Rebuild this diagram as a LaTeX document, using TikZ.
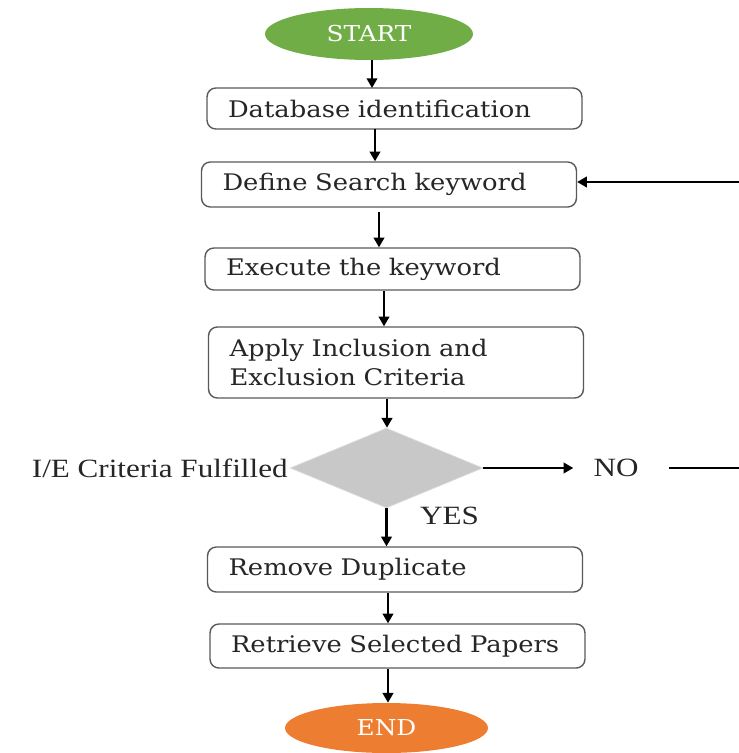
\documentclass[tikz,border=0pt]{standalone}
\usepackage{fontspec}
\setmainfont{DejaVu Serif}[FakeStretch=1.13]
\newfontfamily\labelfont{Liberation Serif}[FakeStretch=1.18]
\usetikzlibrary{shapes.geometric,arrows.meta}

\definecolor{startgreen}{HTML}{70AD47}
\definecolor{endorange}{HTML}{ED7D31}
\definecolor{decgray}{HTML}{C8C8C8}

\tikzset{
  procbox/.style={draw=black!65, line width=0.8pt, rounded corners=5pt,
    text width=6.66cm, inner xsep=0.42cm, align=left, text=black!85,
    font=\fontsize{13}{16}\selectfont},
  termnode/.style={ellipse, text=white, font=\fontsize{12.5}{15}\selectfont},
  declabel/.style={font=\labelfont\fontsize{15}{17}\selectfont, text=black!85},
  arr/.style={-{Triangle[length=5.5pt,width=6pt]}, line width=1.2pt},
}

\begin{document}
\begin{tikzpicture}[x=0.02cm, y=-0.02cm]
  \useasboundingbox (0,0) rectangle (739,753);

  \node[termnode, fill=startgreen, minimum width=4.16cm, minimum height=1.04cm] (start) at (369,34) {START};
  \node[procbox, minimum height=0.82cm] (db) at (394.5,108.5) {Database identification};
  \node[procbox, minimum height=0.9cm] (def) at (389,184.5) {Define Search keyword};
  \node[procbox, minimum height=0.84cm] (exe) at (392.5,269) {Execute the keyword};
  \node[procbox, minimum height=1.42cm] (app) at (396,362.5) {Apply Inclusion and\\Exclusion Criteria};
  \node[diamond, fill=decgray, draw=black!12, minimum width=3.86cm, minimum height=1.6cm, inner sep=0pt] (dec) at (386.5,468) {};
  \node[procbox, minimum height=0.9cm] (rem) at (395,569.5) {Remove Duplicate};
  \node[procbox, minimum height=0.88cm] (ret) at (397.5,646) {\mbox{Retrieve Selected Papers}};
  \node[termnode, fill=endorange, minimum width=4.06cm, minimum height=1cm] (end) at (386.5,728) {END};

  % decision labels
  \node[declabel, anchor=east, inner sep=1pt] (crit) at (dec.west) {I/E Criteria Fulfilled};
  \node[declabel] (no) at (616,468) {NO};
  \node[declabel, anchor=west] (yes) at (414,516) {YES};
  \coordinate (noend) at (739,468);
  \coordinate (loopin) at (739,182);

  \draw[arr] (start.south -| 372,0) -- (372,88);
  \draw[arr] (375,129) -- (def.north -| 375,0);
  \draw[arr] (379,212) -- (exe.north -| 379,0);
  \draw[arr] (384,291) -- (app.north -| 384,0);
  \draw[arr] (387,399) -- (dec.north -| 387,0);
  \draw[arr] (dec.south) -- (rem.north -| dec.south);
  \draw[arr] (388,593) -- (ret.north -| 388,0);
  \draw[arr] (388,669) -- (end.north -| 388,0);
  \draw[arr, shorten >=8pt] (dec.east) -- (no.west);
  \draw[line width=1.2pt, shorten <=14pt] (no.east) -- (noend);
  \draw[arr] (loopin) -- (loopin -| def.east);
\end{tikzpicture}
\end{document}
